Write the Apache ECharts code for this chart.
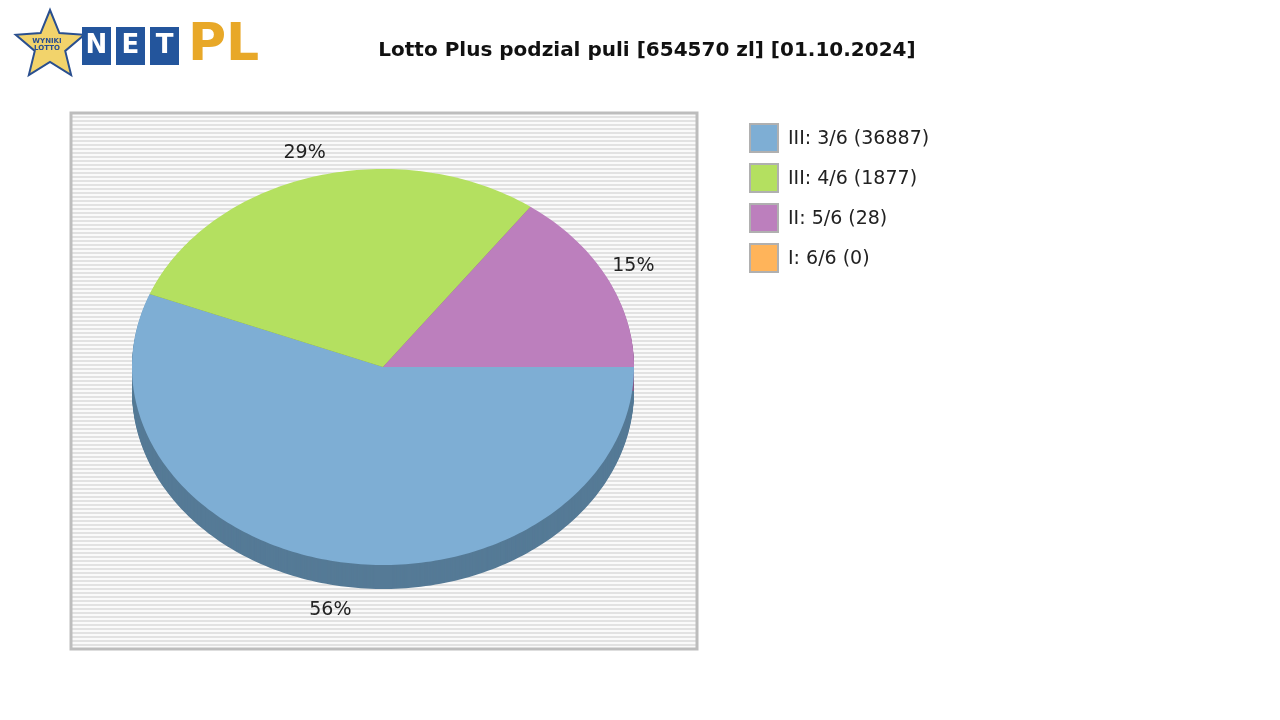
<!DOCTYPE html>
<html><head><meta charset="utf-8">
<script src="https://cdn.jsdelivr.net/npm/echarts@6/dist/echarts.min.js"></script>
<style>html,body{margin:0;background:#fff}#c{width:1280px;height:720px}</style>
</head><body><div id="c"></div>
<script>
const categories = ['III: 3/6 (36887)', 'III: 4/6 (1877)', 'II: 5/6 (28)', 'I: 6/6 (0)'];
const shares = [56, 29, 15, 0];
const colors = ['#7eaed4', '#b4e060', '#bc7fbd', '#ffb45a'];
const shadowColors = ['#557a96', '#7e9c44', '#845985', '#b37e3f'];
const titleText = 'Lotto Plus podzial puli [654570 zl] [01.10.2024]';

const cx = 383, cy = 367, rx = 251, ry = 198, depth = 24;
const total = shares.reduce((a, b) => a + b, 0);
function angles(i) {
  let s = 0;
  for (let k = 0; k < i; k++) s += shares[k];
  return [s / total * 2 * Math.PI, (s + shares[i]) / total * 2 * Math.PI];
}
function sectorPts(a0, a1, dy) {
  const pts = [[cx, cy + dy]];
  const n = Math.max(2, Math.ceil((a1 - a0) / 0.02));
  for (let j = 0; j <= n; j++) {
    const a = a0 + (a1 - a0) * j / n;
    pts.push([cx + rx * Math.cos(a), cy + dy + ry * Math.sin(a)]);
  }
  return pts;
}
const cvs = document.createElement('canvas');
cvs.width = 4; cvs.height = 4;
const g = cvs.getContext('2d');
g.fillStyle = '#fafafa'; g.fillRect(0, 0, 4, 4);
g.fillStyle = '#e2e2e2'; g.fillRect(0, 0, 4, 2);

const legendItems = categories.map((c, i) => ({ type: 'group', children: [
  { type: 'rect', shape: { x: 750, y: 124 + i * 40, width: 28, height: 28 }, style: { fill: colors[i], stroke: '#b0b0b0', lineWidth: 2 } },
  { type: 'text', style: { x: 788, y: 139 + i * 40, text: c, fontSize: 19, fontFamily: 'DejaVu Sans', fill: '#222', verticalAlign: 'middle' } }
] }));

const data = shares.map((v, i) => ({ value: [v], name: categories[i] }));
const chart = echarts.init(document.getElementById('c'));
chart.setOption({
  animation: false,
  title: { text: titleText, left: 642, top: 36, textAlign: 'center',
    textStyle: { fontFamily: 'DejaVu Sans', fontWeight: 'bold', fontSize: 20, color: '#111' } },
  graphic: [
    { type: 'rect', z: -10, shape: { x: 71, y: 113, width: 626, height: 536 },
      style: { fill: { image: cvs, repeat: 'repeat' }, stroke: '#bdbdbd', lineWidth: 3 } },
    { type: 'polygon', shape: { points: (function(){const p=[];for(let k=0;k<10;k++){const r=k%2?16:36;const a=-Math.PI/2+k*Math.PI/5;p.push([50+r*Math.cos(a),46+r*Math.sin(a)]);}return p;})() },
      style: { fill: '#f2d36b', stroke: '#2a4f8f', lineWidth: 2 } },
    { type: 'text', style: { x: 47, y: 38, text: 'WYNIKI\nLOTTO', fontSize: 7, fontWeight: 'bold', fill: '#2a4f8f', align: 'center', fontFamily: 'DejaVu Sans' } },
    ...['N', 'E', 'T'].map((t, k) => ({ type: 'group', children: [
      { type: 'rect', shape: { x: 82 + k * 34, y: 27, width: 29, height: 38 }, style: { fill: '#23559c' } },
      { type: 'text', style: { x: 96.5 + k * 34, y: 46, text: t, fill: '#fff', fontSize: 26, fontWeight: 'bold', fontFamily: 'DejaVu Sans', align: 'center', verticalAlign: 'middle' } }
    ] })),
    { type: 'text', style: { x: 188, y: 46, text: 'PL', fill: '#e8a828', fontSize: 52, fontWeight: 'bold', fontFamily: 'DejaVu Sans', verticalAlign: 'middle' } },
    ...legendItems
  ],
  series: [
    { type: 'custom', coordinateSystem: 'none', data: data, silent: true, z: 1,
      renderItem: function (params, api) {
        const i = params.dataIndex; if (!api.value(0)) return;
        const [a0, a1] = angles(i);
        const children = [];
        for (let dy = depth; dy > 0; dy -= 1)
          children.push({ type: 'polygon', shape: { points: sectorPts(a0, a1, dy) }, style: { fill: shadowColors[i] } });
        return { type: 'group', children };
      } },
    { type: 'custom', name: 'pie', coordinateSystem: 'none', data: data, z: 2,
      renderItem: function (params, api) {
        const i = params.dataIndex; const v = api.value(0); if (!v) return;
        const [a0, a1] = angles(i);
        const m = (a0 + a1) / 2;
        const s = Math.sin(m);
        const lx = cx + (rx + 30) * Math.cos(m);
        const ly = cy + (ry + 25 + (s > 0 ? depth : 0)) * s;
        return { type: 'group', children: [
          { type: 'polygon', shape: { points: sectorPts(a0, a1, 0) }, style: { fill: colors[i] } },
          { type: 'text', style: { x: lx, y: ly, text: Math.round(v / total * 100) + '%', fontSize: 19, fontFamily: 'DejaVu Sans', fill: '#222', align: 'center', verticalAlign: 'middle' } }
        ] };
      } }
  ]
});
</script></body></html>
